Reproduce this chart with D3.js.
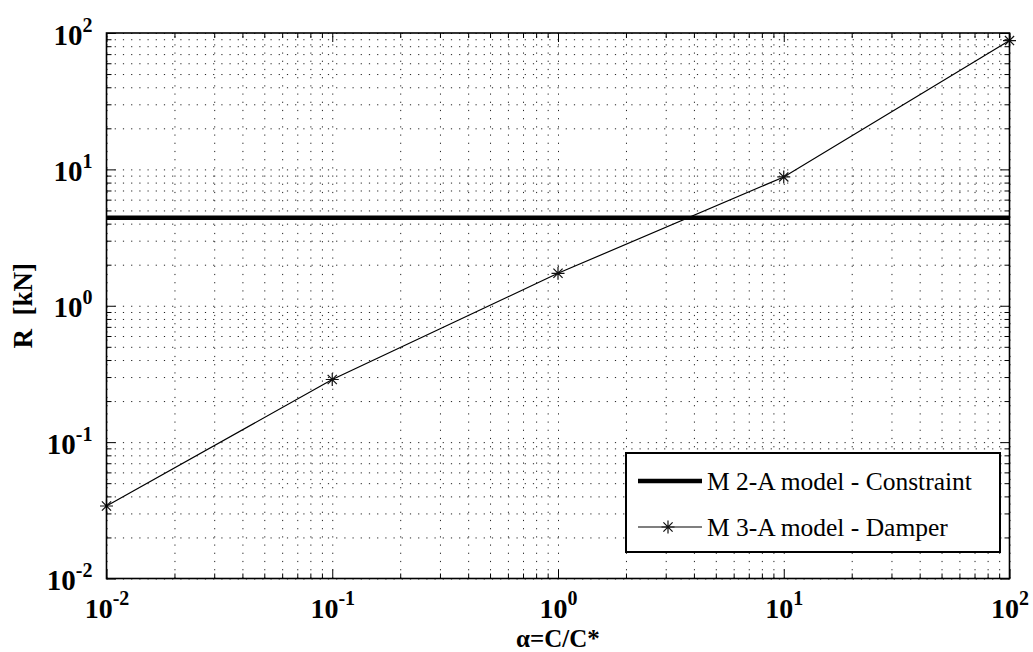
<!DOCTYPE html>
<html>
<head>
<meta charset="utf-8">
<script src="https://cdn.jsdelivr.net/npm/d3@7"></script>
<style>
  html, body { margin: 0; padding: 0; background: #fff; }
  svg { display: block; font-family: "Liberation Serif", "Times New Roman", serif; }
</style>
</head>
<body>
<svg id="chart" width="1033" height="652"></svg>
<script>
// Damping ratio alpha = C/C* and the reaction force R [kN]
const alphaValues = [0.01, 0.1, 1, 10, 100];
const damperForce = [0.034, 0.288, 1.73, 8.8, 88];
const constraintForce = 4.42;

const seriesNames = ["M 2-A model - Constraint", "M 3-A model - Damper"];
const majorTicks = [0.01, 0.1, 1, 10, 100];
const tickExponents = ["-2", "-1", "0", "1", "2"];
const xTitle = "α=C/C*";
const yTitle = "R  [kN]";

const W = 1033, H = 652;
const margin = { left: 106.5, right: 23.5, top: 33, bottom: 73.5 };
const innerW = W - margin.left - margin.right;
const innerH = H - margin.top - margin.bottom;

const svg = d3.select("#chart");
const g = svg.append("g").attr("transform", `translate(${margin.left},${margin.top})`);

const x = d3.scaleLog().domain([0.01, 100]).range([0, innerW]);
const y = d3.scaleLog().domain([0.01, 100]).range([innerH, 0]);

// minor positions 2..9 in each decade
const minorTicks = [];
for (let e = -2; e < 2; e++) {
  for (let k = 2; k <= 9; k++) minorTicks.push(k * Math.pow(10, e));
}
const allTicks = majorTicks.concat(minorTicks);

// dotted grid at every major and minor position
const grid = g.append("g").attr("class", "grid");
grid.append("g")
  .attr("transform", `translate(0,${innerH})`)
  .call(d3.axisBottom(x).tickValues(allTicks).tickSize(-innerH).tickFormat(""));
grid.append("g")
  .call(d3.axisLeft(y).tickValues(allTicks).tickSize(-innerW).tickFormat(""));
grid.selectAll(".domain").remove();
grid.selectAll("line")
  .attr("stroke", "#222")
  .attr("stroke-width", 1)
  .attr("stroke-dasharray", "1.2,7");

// inward ticks on all four sides
function tickAxis(axis, transform, values, size) {
  const a = g.append("g").attr("transform", transform)
    .call(axis.tickValues(values).tickSize(size).tickFormat(""));
  a.select(".domain").remove();
  a.selectAll("line").attr("stroke", "#000").attr("stroke-width", 1);
}
tickAxis(d3.axisBottom(x), `translate(0,${innerH})`, majorTicks, -9);
tickAxis(d3.axisBottom(x), `translate(0,${innerH})`, minorTicks, -5);
tickAxis(d3.axisTop(x), `translate(0,0)`, majorTicks, -9);
tickAxis(d3.axisTop(x), `translate(0,0)`, minorTicks, -5);
tickAxis(d3.axisLeft(y), `translate(0,0)`, majorTicks, -9);
tickAxis(d3.axisLeft(y), `translate(0,0)`, minorTicks, -5);
tickAxis(d3.axisRight(y), `translate(${innerW},0)`, majorTicks, -9);
tickAxis(d3.axisRight(y), `translate(${innerW},0)`, minorTicks, -5);

// constraint reaction: horizontal thick line
g.append("line")
  .attr("x1", x(0.01)).attr("x2", x(100))
  .attr("y1", y(constraintForce)).attr("y2", y(constraintForce))
  .attr("stroke", "#000").attr("stroke-width", 4.5);

// damper reaction: thin line with asterisk markers
const pts = alphaValues.map((a, i) => [a, damperForce[i]]);
g.append("path")
  .datum(pts)
  .attr("fill", "none")
  .attr("stroke", "#000")
  .attr("stroke-width", 1.2)
  .attr("d", d3.line().x(d => x(d[0])).y(d => y(d[1])));

function asterisk(sel, r) {
  const d = r * Math.SQRT1_2;
  const p = `M${-r},0L${r},0M0,${-r}L0,${r}M${-d},${-d}L${d},${d}M${-d},${d}L${d},${-d}`;
  sel.append("path").attr("d", p).attr("stroke", "#111").attr("stroke-width", 1.2).attr("fill", "none");
}
g.selectAll("g.marker").data(pts).join("g")
  .attr("class", "marker")
  .attr("transform", d => `translate(${x(d[0])},${y(d[1])})`)
  .each(function () { asterisk(d3.select(this), 6.5); });

// axes box
g.append("rect")
  .attr("x", 0).attr("y", 0).attr("width", innerW).attr("height", innerH)
  .attr("fill", "none").attr("stroke", "#000").attr("stroke-width", 1.6);

// tick labels as 10 with a superscript exponent
function powerLabel(text, i) {
  text.text("10");
  text.append("tspan")
    .attr("dy", -13)
    .attr("font-size", 20)
    .text(tickExponents[i]);
}
const xLab = g.append("g").attr("transform", `translate(0,${innerH})`)
  .call(d3.axisBottom(x).tickValues(majorTicks).tickSize(0).tickPadding(0).tickFormat(() => ""));
xLab.select(".domain").remove();
xLab.selectAll(".tick text")
  .attr("dy", null).attr("y", 39.5)
  .attr("font-family", "Liberation Serif, serif")
  .attr("font-size", 28).attr("font-weight", "bold").attr("fill", "#000")
  .attr("text-anchor", "middle")
  .each(function (d, i) { powerLabel(d3.select(this), i); });

const yLab = g.append("g")
  .call(d3.axisLeft(y).tickValues(majorTicks).tickSize(0).tickPadding(0).tickFormat(() => ""));
yLab.select(".domain").remove();
yLab.selectAll(".tick text")
  .attr("dy", null).attr("x", -14).attr("y", 11)
  .attr("font-family", "Liberation Serif, serif")
  .attr("font-size", 29).attr("font-weight", "bold").attr("fill", "#000")
  .attr("text-anchor", "end")
  .each(function (d, i) { powerLabel(d3.select(this), i); });

// axis titles
svg.append("text")
  .attr("x", margin.left + innerW / 2).attr("y", 646.5)
  .attr("text-anchor", "middle")
  .attr("font-size", 25).attr("font-weight", "bold")
  .text(xTitle);
svg.append("text")
  .attr("transform", `translate(32,${margin.top + innerH / 2}) rotate(-90)`)
  .attr("text-anchor", "middle")
  .attr("font-size", 27).attr("font-weight", "bold")
  .style("white-space", "pre")
  .text(yTitle);

// legend
const lg = svg.append("g").attr("transform", "translate(626,453)");
lg.append("rect")
  .attr("width", 374).attr("height", 99)
  .attr("fill", "#fff").attr("stroke", "#000").attr("stroke-width", 2);
lg.append("line").attr("x1", 12).attr("x2", 76).attr("y1", 28).attr("y2", 28)
  .attr("stroke", "#000").attr("stroke-width", 4.5);
lg.append("line").attr("x1", 12).attr("x2", 76).attr("y1", 74).attr("y2", 74)
  .attr("stroke", "#000").attr("stroke-width", 1.2);
asterisk(lg.append("g").attr("transform", "translate(42,74)"), 6.5);
lg.selectAll("text.entry").data(seriesNames).join("text")
  .attr("class", "entry")
  .attr("x", 81).attr("y", (d, i) => 37 + i * 46)
  .attr("font-size", 25.5)
  .style("white-space", "pre")
  .text(d => d);
</script>
</body>
</html>
